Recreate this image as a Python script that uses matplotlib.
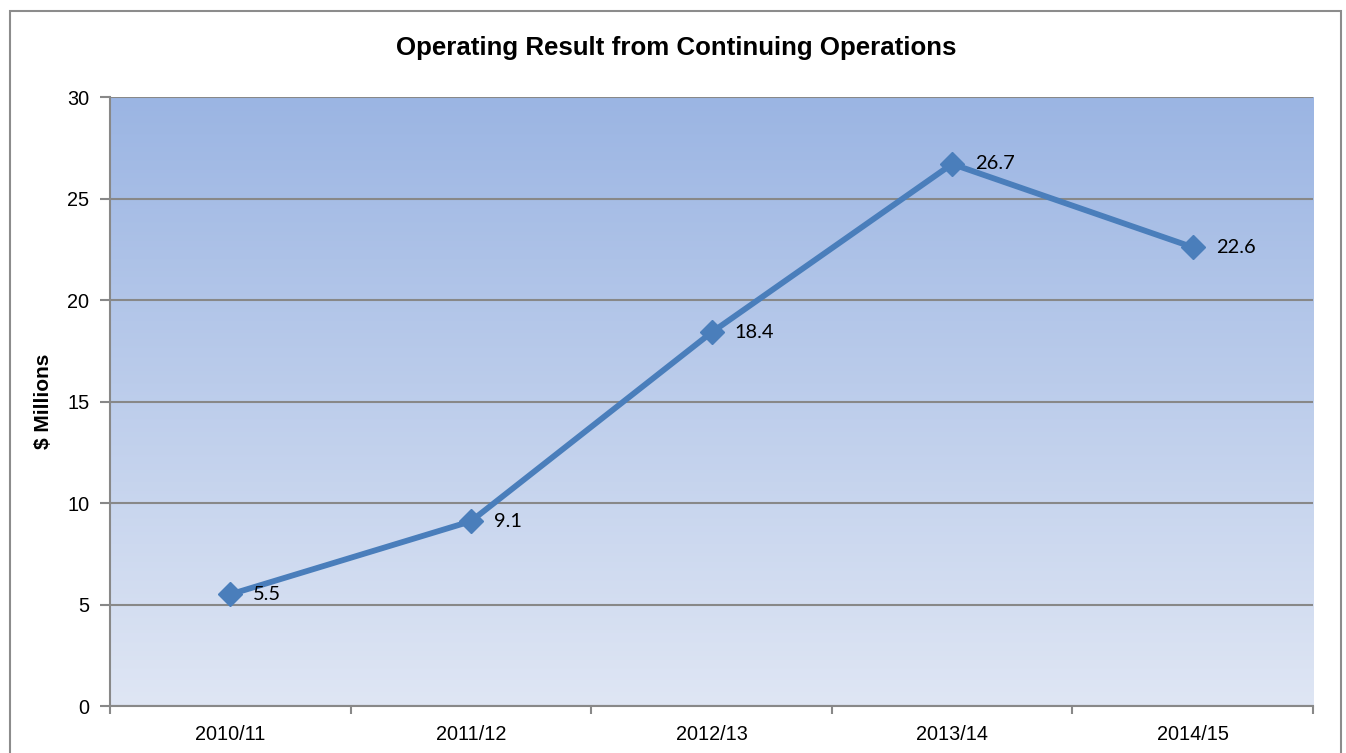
import matplotlib
matplotlib.use("Agg")
import matplotlib.pyplot as plt
import numpy as np
from matplotlib.colors import LinearSegmentedColormap
from matplotlib.patches import Rectangle

years = ["2010/11", "2011/12", "2012/13", "2013/14", "2014/15"]
values = [5.5, 9.1, 18.4, 26.7, 22.6]
labels = ["5.5", "9.1", "18.4", "26.7", "22.6"]
yticks = [0, 5, 10, 15, 20, 25, 30]

W, H = 1346, 753
fig = plt.figure(figsize=(W / 100, H / 100), dpi=100)
ax = fig.add_axes([110 / W, 1 - 706 / H, (1313 - 110) / W, (706 - 97) / H])

# figure border
fig.patches.append(Rectangle((10 / W, -0.05), (1341 - 10) / W, 1 - 11 / H + 0.05,
                             transform=fig.transFigure, fill=False,
                             edgecolor="#8c8c8c", linewidth=1.5))

x = np.arange(len(years))

# gradient background
cmap = LinearSegmentedColormap.from_list("bg", ["#dfe6f4", "#9bb5e3"])
grad = np.linspace(0, 1, 256).reshape(-1, 1)
ax.imshow(grad, cmap=cmap, aspect="auto", origin="lower",
          extent=[0, 1, 0, 1], transform=ax.transAxes, zorder=0)
ax.set_xlim(-0.5, len(years) - 0.5)
ax.set_ylim(0, 30)

ax.set_yticks(yticks)
ax.yaxis.grid(True, color="#888888", linewidth=1.5, zorder=1)
ax.set_axisbelow(True)

ax.set_xticks(np.arange(-0.5, len(years), 1.0))
ax.set_xticklabels([])
ax.set_xticks(x, minor=True)
ax.set_xticklabels(years, minor=True)
ax.tick_params(axis="x", which="minor", length=0, pad=14)
ax.tick_params(axis="x", which="major", length=6, color="#888888", width=1.5)
ax.tick_params(axis="y", length=7, color="#888888", width=1.5, pad=8)

for lbl in ax.get_xticklabels(minor=True) + ax.get_yticklabels():
    lbl.set_fontfamily("Liberation Sans")
    lbl.set_fontsize(14.3)

for s in ["top", "right"]:
    ax.spines[s].set_visible(False)
for s in ["left", "bottom"]:
    ax.spines[s].set_color("#888888")
    ax.spines[s].set_linewidth(1.5)

ax.plot(x, values, color="#4a7ebb", linewidth=4.2, marker="D", markersize=12,
        zorder=3, clip_on=False)

for xi, v, t in zip(x, values, labels):
    ax.annotate(t, (xi, v), xytext=(16.5, 0), textcoords="offset points",
                va="center", ha="left", fontsize=14.4, fontfamily="Lato", zorder=4)

ax.set_ylabel("$ Millions", fontfamily="Liberation Sans", fontweight="bold",
              fontsize=15)
ax.yaxis.set_label_coords((53 - 110) / 1203, 0.5)
fig.text(676 / W, 1 - 48 / H, "Operating Result from Continuing Operations",
         ha="center", va="center", fontfamily="Liberation Sans",
         fontweight="bold", fontsize=18.6)

fig.savefig("out.png", dpi=100)
